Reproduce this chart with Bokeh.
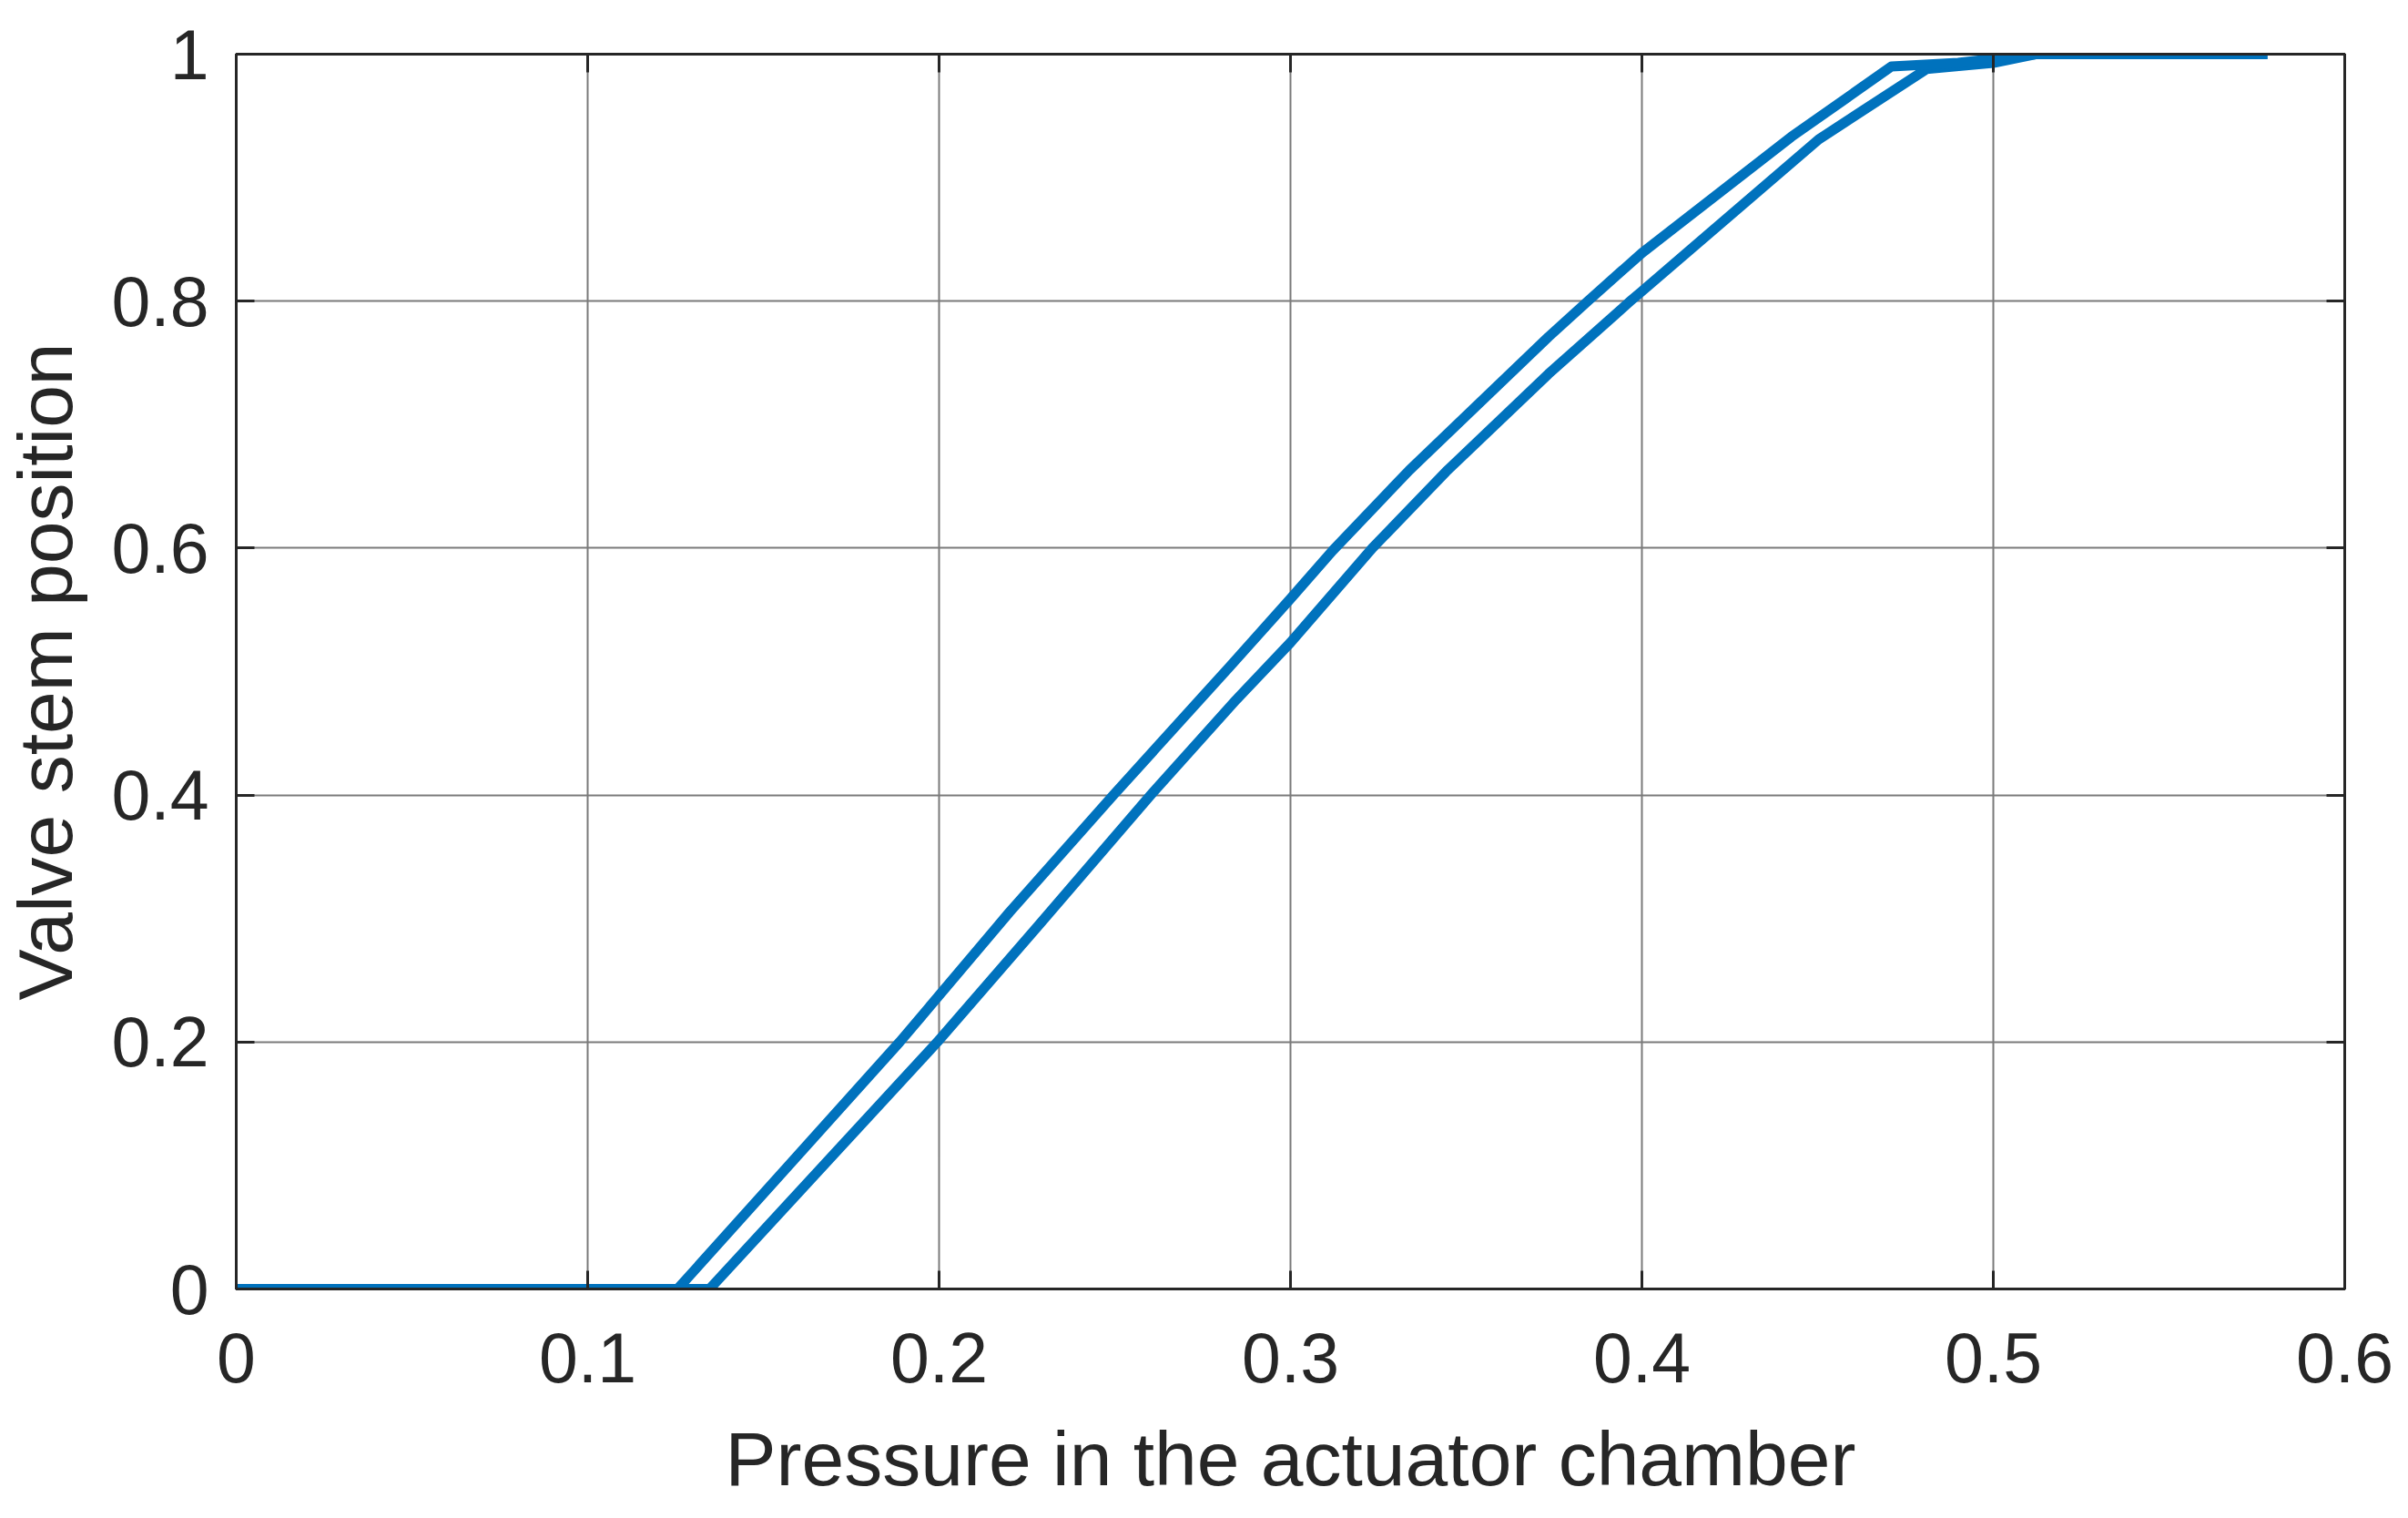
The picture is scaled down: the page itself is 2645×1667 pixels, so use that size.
from bokeh.plotting import figure
from bokeh.models import LinearAxis, FixedTicker, Range1d
from bokeh.embed import file_html
from bokeh.resources import INLINE

# Data (hysteresis loop of the valve)
pressure_up = [0, 0.1347, 0.1995, 0.23, 0.2602, 0.2845, 0.3, 0.3233, 0.3443, 0.3734, 0.3967, 0.4, 0.4503, 0.481, 0.5, 0.512, 0.578]
position_up = [0, 0, 0.2, 0.3, 0.4, 0.477, 0.5235, 0.6, 0.662, 0.741, 0.8, 0.808, 0.931, 0.988, 0.993, 1.0, 1.0]

pressure_down = [0, 0.1256, 0.1888, 0.22, 0.2496, 0.2827, 0.3, 0.312, 0.3338, 0.3734, 0.3846, 0.4, 0.4425, 0.471, 0.49, 0.512, 0.578]
position_down = [0, 0, 0.2, 0.305, 0.4, 0.504, 0.559, 0.598, 0.663, 0.771, 0.8, 0.839, 0.933, 0.990, 0.993, 1.0, 1.0]

x_ticks = [0, 0.1, 0.2, 0.3, 0.4, 0.5, 0.6]
x_tick_labels = ["0", "0.1", "0.2", "0.3", "0.4", "0.5", "0.6"]
y_ticks = [0, 0.2, 0.4, 0.6, 0.8, 1.0]
y_tick_labels = ["0", "0.2", "0.4", "0.6", "0.8", "1"]

x_label = "Pressure in the actuator chamber"
y_label = "Valve stem position"

FONT = "Liberation Sans"
DARK = "#262626"
BLUE = "#0072BD"

p = figure(width=2629, height=1651, output_backend="svg", toolbar_location=None,
           x_range=Range1d(0, 0.6), y_range=Range1d(0, 1),
           min_border_left=258, min_border_right=54, min_border_top=59, min_border_bottom=231)

p.outline_line_color = DARK
p.outline_line_width = 3
p.background_fill_color = "white"
p.border_fill_color = "white"

p.xaxis.ticker = FixedTicker(ticks=x_ticks)
p.yaxis.ticker = FixedTicker(ticks=y_ticks)
p.xaxis.major_label_overrides = {t: l for t, l in zip(x_ticks, x_tick_labels)}
p.yaxis.major_label_overrides = {t: l for t, l in zip(y_ticks, y_tick_labels)}

for ax in (p.xaxis[0], p.yaxis[0]):
    ax.axis_line_color = DARK
    ax.axis_line_width = 3
    ax.major_tick_in = 20
    ax.major_tick_out = 0
    ax.major_tick_line_color = DARK
    ax.major_tick_line_width = 3
    ax.minor_tick_line_color = None
    ax.major_label_text_font = FONT
    ax.major_label_text_font_size = "77px"
    ax.major_label_text_color = DARK
    ax.axis_label_text_font = FONT
    ax.axis_label_text_font_size = "84px"
    ax.axis_label_text_font_style = "normal"
    ax.axis_label_text_color = DARK

p.xaxis.axis_label = x_label
p.yaxis.axis_label = y_label
p.xaxis.major_label_standoff = 48
p.yaxis.major_label_standoff = 30
p.xaxis.axis_label_standoff = 34
p.yaxis.axis_label_standoff = 22

# mirror ticks on top and right
top = LinearAxis(ticker=FixedTicker(ticks=x_ticks))
right = LinearAxis(ticker=FixedTicker(ticks=y_ticks))
for ax in (top, right):
    ax.axis_line_color = DARK
    ax.axis_line_width = 3
    ax.major_tick_in = 20
    ax.major_tick_out = 0
    ax.major_tick_line_color = DARK
    ax.major_tick_line_width = 3
    ax.minor_tick_line_color = None
    ax.major_label_text_font_size = "0px"
    ax.major_label_standoff = 0
p.add_layout(top, "above")
p.add_layout(right, "right")

p.xgrid.ticker = FixedTicker(ticks=x_ticks)
p.ygrid.ticker = FixedTicker(ticks=y_ticks)
for g in (p.xgrid[0], p.ygrid[0]):
    g.grid_line_color = "#7a7a7a"
    g.grid_line_width = 2

p.line(pressure_up, position_up, line_color=BLUE, line_width=11, line_join="round")
p.line(pressure_down, position_down, line_color=BLUE, line_width=11, line_join="round")

open("out.html", "w").write(file_html(p, INLINE))
